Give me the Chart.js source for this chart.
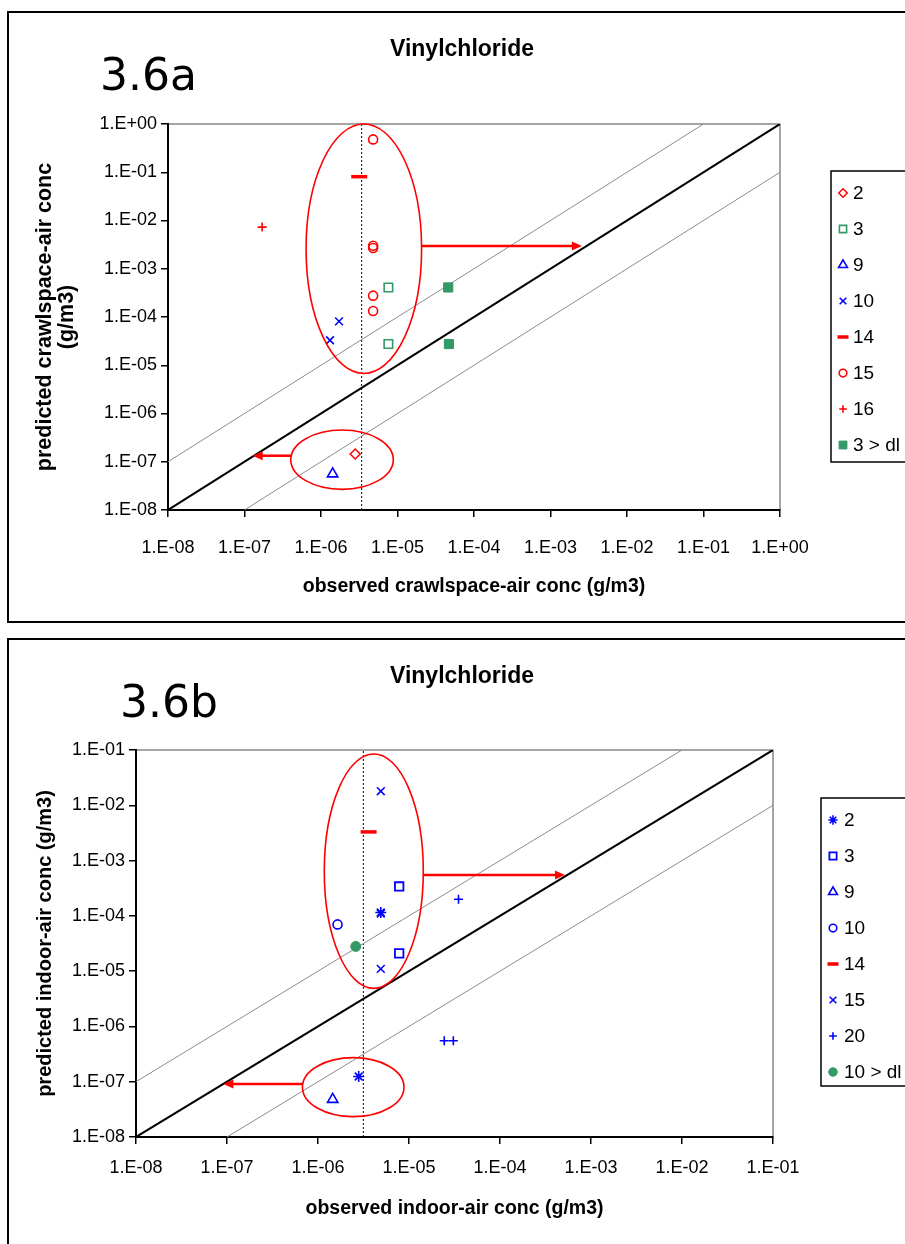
<!DOCTYPE html>
<html>
<head>
<meta charset="utf-8">
<script src="https://cdn.jsdelivr.net/npm/chart.js@4.4.1/dist/chart.umd.min.js"></script>
<style>
  html, body { margin: 0; padding: 0; background: #fff; overflow: hidden; }
  body { width: 905px; height: 1244px; position: relative; }
  canvas { position: absolute; left: 0; }
  #chartA { top: 0; }
  #chartB { top: 628px; }
  .frame { position: absolute; left: 7px; width: 960px; border: 2px solid #000; }
  #frameA { top: 11px; height: 608px; }
  #frameB { top: 638px; height: 640px; }
</style>
</head>
<body>
<div class="frame" id="frameA"></div>
<div class="frame" id="frameB"></div>
<canvas id="chartA" width="905" height="622"></canvas>
<canvas id="chartB" width="905" height="616"></canvas>
<script>
'use strict'

// Data - 3.6a crawlspace air (observed x, predicted y)

const xTicksA = ['1.E-08', '1.E-07', '1.E-06', '1.E-05', '1.E-04', '1.E-03', '1.E-02', '1.E-01', '1.E+00'];
const yTicksA = ['1.E-08', '1.E-07', '1.E-06', '1.E-05', '1.E-04', '1.E-03', '1.E-02', '1.E-01', '1.E+00'];
const namesA = ['2', '3', '9', '10', '14', '15', '16', '3 > dl'];

const a2Obs = [2.8e-6];
const a2Pred = [1.45e-7];
const a3Obs = [7.6e-6, 7.6e-6];
const a3Pred = [4.1e-4, 2.75e-5];
const a9Obs = [1.42e-6];
const a9Pred = [5.6e-8];
const a10Obs = [1.72e-6, 1.31e-6];
const a10Pred = [8.1e-5, 3.3e-5];
const a14Obs = [3.16e-6];
const a14Pred = [8.1e-2];
const a15Obs = [4.8e-6, 4.8e-6, 4.8e-6, 4.8e-6, 4.8e-6];
const a15Pred = [0.48, 3.0e-3, 2.7e-3, 2.77e-4, 1.33e-4];
const a16Obs = [1.7e-7];
const a16Pred = [7.3e-3];
const a3dlObs = [4.6e-5, 4.7e-5];
const a3dlPred = [4.1e-4, 2.75e-5];
const detectA = 3.4e-6;

// ellipses [log10 x centre, log10 y centre, x radius, y radius] in decades
const ellipsesA = [[-5.44, -2.585, 0.755, 2.585], [-5.725, -6.957, 0.67, 0.615]];
// arrows [log10 x start, log10 y, log10 x end]
const arrowsA = [[-4.69, -2.53, -2.59], [-6.39, -6.875, -6.893]];

// Data - 3.6b indoor air

const xTicksB = ['1.E-08', '1.E-07', '1.E-06', '1.E-05', '1.E-04', '1.E-03', '1.E-02', '1.E-01'];
const yTicksB = ['1.E-08', '1.E-07', '1.E-06', '1.E-05', '1.E-04', '1.E-03', '1.E-02', '1.E-01'];
const namesB = ['2', '3', '9', '10', '14', '15', '20', '10 > dl'];

const b2Obs = [4.9e-6, 2.8e-6];
const b2Pred = [1.15e-4, 1.24e-7];
const b3Obs = [7.8e-6, 7.8e-6];
const b3Pred = [3.4e-4, 2.1e-5];
const b9Obs = [1.45e-6];
const b9Pred = [4.8e-8];
const b10Obs = [1.64e-6];
const b10Pred = [7.0e-5];
const b14Obs = [3.6e-6];
const b14Pred = [3.3e-3];
const b15Obs = [4.9e-6, 4.9e-6, 4.9e-6];
const b15Pred = [1.8e-2, 1.1e-4, 1.1e-5];
const b20Obs = [3.5e-5, 2.44e-5, 3.07e-5];
const b20Pred = [2.0e-4, 5.5e-7, 5.5e-7];
const b10dlObs = [2.6e-6];
const b10dlPred = [2.8e-5];
const detectB = 3.15e-6;

const ellipsesB = [[-5.387, -3.192, 0.544, 2.119], [-5.613, -7.098, 0.558, 0.533]];
const arrowsB = [[-4.843, -3.26, -3.286], [-6.168, -7.04, -7.04]];

// Styles

const RED = '#ff0000';
const BLUE = '#0000ff';
const GREEN = '#339966';
const FONT = '"Liberation Sans", Arial, sans-serif';
Chart.defaults.font.family = FONT;

const marksA = [
  { style: 'rectRot', r: 5, w: 1.5, color: RED },
  { style: 'rect', r: 6, w: 1.6, color: GREEN },
  { style: 'triangle', r: 6, w: 1.6, color: BLUE },
  { style: 'crossRot', r: 5.5, w: 1.6, color: BLUE },
  { style: 'line', r: 8, w: 3.5, color: RED },
  { style: 'circle', r: 4.5, w: 1.6, color: RED },
  { style: 'cross', r: 4.5, w: 1.6, color: RED },
  { style: 'rect', r: 6.5, w: 1, color: GREEN, fill: true }
];

const marksB = [
  { style: 'star', r: 5.5, w: 1.6, color: BLUE },
  { style: 'rect', r: 6, w: 1.8, color: BLUE },
  { style: 'triangle', r: 6, w: 1.6, color: BLUE },
  { style: 'circle', r: 4.5, w: 1.6, color: BLUE },
  { style: 'line', r: 8, w: 3.5, color: RED },
  { style: 'crossRot', r: 5.5, w: 1.6, color: BLUE },
  { style: 'cross', r: 4.5, w: 1.6, color: BLUE },
  { style: 'circle', r: 5, w: 1, color: GREEN, fill: true }
];

// Helpers

function tickVals(labels) {
  return labels.map(l => parseFloat(l.replace('.E', 'E')));
}

function pts(xs, ys) {
  return xs.map((x, i) => ({ x: x, y: ys[i] }));
}

function markerSets(names, obs, pred, marks) {
  return names.map((n, i) => ({
    label: n,
    data: pts(obs[i], pred[i]),
    showLine: false,
    pointStyle: marks[i].style,
    pointRadius: marks[i].r,
    pointBorderWidth: marks[i].w,
    pointBorderColor: marks[i].color,
    pointBackgroundColor: marks[i].fill ? marks[i].color : 'rgba(0,0,0,0)'
  }));
}

function refLines(xl, yl, detect) {
  const xv = tickVals(xl), yv = tickVals(yl);
  const lo = xv[0], hiX = xv[xv.length - 1], hiY = yv[yv.length - 1];
  const line = (data, color, width, dash) => ({
    isRef: true, data: data, showLine: true, pointRadius: 0,
    borderColor: color, borderWidth: width, borderDash: dash || []
  });
  return [
    line([{ x: lo, y: lo * 10 }, { x: hiY / 10, y: hiY }], '#8c8c8c', 1),
    line([{ x: lo * 10, y: lo }, { x: hiX, y: hiX / 10 }], '#8c8c8c', 1),
    line([{ x: lo, y: lo }, { x: Math.min(hiX, hiY), y: Math.min(hiX, hiY) }], '#000', 2),
    line([{ x: detect, y: yv[0] }, { x: detect, y: hiY }], '#000', 1, [2, 2])
  ];
}

// Plugin: plot border, ellipses, arrows, title, figure label, legend box

const decor = {
  id: 'decor',
  beforeDraw(chart) {
    const a = chart.chartArea, ctx = chart.ctx;
    ctx.save();
    ctx.strokeStyle = '#888';
    ctx.lineWidth = 1.5;
    ctx.strokeRect(a.left, a.top, a.right - a.left, a.bottom - a.top);
    ctx.restore();
  },
  afterDatasetsDraw(chart, args, o) {
    const ctx = chart.ctx, xs = chart.scales.x, ys = chart.scales.y;
    const px = v => xs.getPixelForValue(Math.pow(10, v));
    const py = v => ys.getPixelForValue(Math.pow(10, v));
    ctx.save();
    ctx.strokeStyle = RED;
    ctx.fillStyle = RED;
    ctx.lineWidth = 1.6;
    o.ellipses.forEach(e => {
      const cx = px(e[0]), cy = py(e[1]);
      ctx.beginPath();
      ctx.ellipse(cx, cy, Math.abs(px(e[0] + e[2]) - cx), Math.abs(py(e[1] + e[3]) - cy), 0, 0, 2 * Math.PI);
      ctx.stroke();
    });
    ctx.lineWidth = 2.5;
    o.arrows.forEach(r => {
      const x1 = px(r[0]), y = py(r[1]), x2 = px(r[2]);
      const dir = Math.sign(x2 - x1);
      ctx.beginPath();
      ctx.moveTo(x1, y);
      ctx.lineTo(x2 - dir * 8, y);
      ctx.stroke();
      ctx.beginPath();
      ctx.moveTo(x2, y);
      ctx.lineTo(x2 - dir * 10, y - 4.5);
      ctx.lineTo(x2 - dir * 10, y + 4.5);
      ctx.closePath();
      ctx.fill();
    });
    ctx.restore();
  },
  afterDraw(chart, args, o) {
    const ctx = chart.ctx;
    ctx.save();
    ctx.fillStyle = '#000';
    ctx.textAlign = 'center';
    ctx.textBaseline = 'middle';
    ctx.font = 'bold 23px ' + FONT;
    ctx.fillText('Vinylchloride', o.titleX, o.titleY);

    ctx.textAlign = 'left';
    ctx.textBaseline = 'alphabetic';
    ctx.font = '44px "DejaVu Sans", Verdana, sans-serif';
    ctx.fillText(o.fig, o.figX, o.figY);

    const lg = o.legend;
    ctx.strokeStyle = '#000';
    ctx.lineWidth = 1.5;
    ctx.strokeRect(lg.left, lg.top, 200, lg.bottom - lg.top);
    ctx.font = '19px ' + FONT;
    ctx.textBaseline = 'middle';
    chart.data.datasets.filter(d => !d.isRef).forEach((d, i) => {
      const y = lg.rowTop + i * lg.rowGap;
      ctx.save();
      ctx.strokeStyle = d.pointBorderColor;
      ctx.fillStyle = d.pointBackgroundColor;
      ctx.lineWidth = d.pointBorderWidth;
      const r = d.pointStyle === 'line' ? 5.5 : d.pointRadius * 0.85;
      Chart.helpers.drawPoint(ctx, { pointStyle: d.pointStyle, radius: r, borderWidth: d.pointBorderWidth, rotation: 0 }, lg.markX, y);
      ctx.restore();
      ctx.fillText(d.label, lg.textX, y + 1);
    });
    ctx.restore();
  }
};

function logAxis(labels, extra) {
  const vals = tickVals(labels);
  return Object.assign({
    type: 'logarithmic',
    min: vals[0],
    max: vals[vals.length - 1],
    afterBuildTicks: s => { s.ticks = vals.map(v => ({ value: v })); },
    grid: { drawOnChartArea: false, drawTicks: true, tickLength: 7, color: '#000', lineWidth: 1.5 },
    border: { color: '#000', width: 2 }
  }, extra);
}

function makeChart(id, c) {
  return new Chart(document.getElementById(id), {
    type: 'scatter',
    data: { datasets: c.datasets },
    options: {
      responsive: false,
      animation: false,
      events: [],
      layout: { padding: { left: 0, top: c.padTop, right: c.padRight, bottom: 0 } },
      plugins: { legend: { display: false }, tooltip: { enabled: false }, decor: c.decor },
      scales: {
        x: logAxis(c.xTicks, {
          position: 'bottom',
          afterFit: s => { s.height = c.xHeight; },
          ticks: { callback: (v, i) => c.xTicks[i], color: '#000', font: { size: 18 }, padding: c.xTickPad, maxRotation: 0, autoSkip: false },
          title: { display: true, text: c.xTitle, color: '#000', font: { size: 19.5, weight: 'bold' }, padding: { top: 0, bottom: 24 } }
        }),
        y: logAxis(c.yTicks, {
          position: 'left',
          afterFit: s => { s.width = c.yWidth; },
          ticks: { callback: (v, i) => c.yTicks[i], color: '#000', font: { size: 18 }, padding: 4, autoSkip: false },
          title: { display: true, text: c.yTitle, color: '#000', font: { size: c.ySize, weight: 'bold', lineHeight: c.yLine }, padding: { top: c.yTitlePad, bottom: 0 } }
        })
      }
    },
    plugins: [decor]
  });
}

// Executable code

makeChart('chartA', {
  datasets: markerSets(namesA,
    [a2Obs, a3Obs, a9Obs, a10Obs, a14Obs, a15Obs, a16Obs, a3dlObs],
    [a2Pred, a3Pred, a9Pred, a10Pred, a14Pred, a15Pred, a16Pred, a3dlPred],
    marksA).concat(refLines(xTicksA, yTicksA, detectA)),
  xTicks: xTicksA, yTicks: yTicksA,
  padTop: 124, padRight: 125, xHeight: 112, yWidth: 168, xTickPad: 20,
  xTitle: 'observed crawlspace-air conc (g/m3)',
  yTitle: ['predicted crawlspace-air conc', '(g/m3)'],
  ySize: 21.5, yLine: 1.03, yTitlePad: 34,
  decor: {
    ellipses: ellipsesA, arrows: arrowsA,
    titleX: 462, titleY: 50, fig: '3.6a', figX: 100, figY: 90,
    legend: { left: 831, top: 171, bottom: 462, rowTop: 193, rowGap: 36, markX: 843, textX: 853 }
  }
});

makeChart('chartB', {
  datasets: markerSets(namesB,
    [b2Obs, b3Obs, b9Obs, b10Obs, b14Obs, b15Obs, b20Obs, b10dlObs],
    [b2Pred, b3Pred, b9Pred, b10Pred, b14Pred, b15Pred, b20Pred, b10dlPred],
    marksB).concat(refLines(xTicksB, yTicksB, detectB)),
  xTicks: xTicksB, yTicks: yTicksB,
  padTop: 122, padRight: 132, xHeight: 107, yWidth: 136, xTickPad: 13,
  xTitle: 'observed indoor-air conc (g/m3)',
  yTitle: 'predicted indoor-air conc (g/m3)',
  ySize: 20, yLine: 1.2, yTitlePad: 33,
  decor: {
    ellipses: ellipsesB, arrows: arrowsB,
    titleX: 462, titleY: 49, fig: '3.6b', figX: 120, figY: 89,
    legend: { left: 821, top: 170, bottom: 458, rowTop: 192, rowGap: 36, markX: 833, textX: 844 }
  }
});
</script>
</body>
</html>
